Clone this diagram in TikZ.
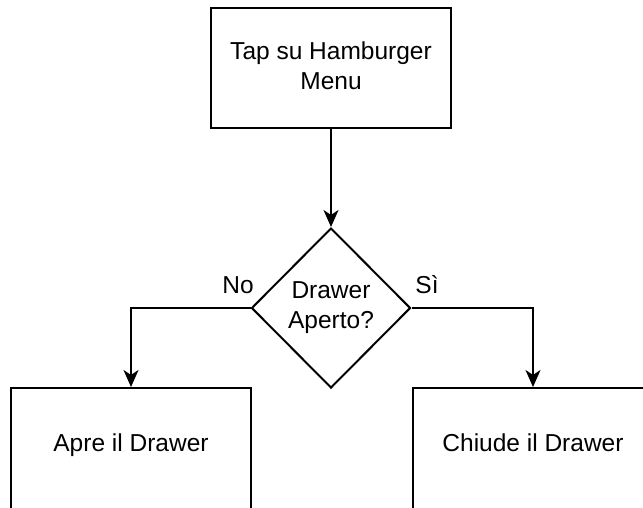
\documentclass[tikz,border=0pt]{standalone}
\usepackage{fontspec}
\setmainfont{Liberation Sans}
\usetikzlibrary{shapes.geometric,arrows.meta}
\begin{document}
\begin{tikzpicture}[x=1pt,y=-1pt,
  every node/.style={font=\fontsize{24.5}{30}\selectfont},
  flowbox/.style={draw=black,line width=2pt,rectangle,minimum width=240pt,minimum height=120pt,inner sep=0pt,align=center},
  cutbox/.style={flowbox,minimum height=128pt,text height=10pt,text depth=12pt},
  decision/.style={draw=black,line width=2pt,diamond,minimum width=159pt,minimum height=160pt,inner sep=0pt,align=center},
  conn/.style={draw=black,line width=2pt,-{Stealth[length=17pt,width=15pt,inset=5pt]}},
  lbl/.style={anchor=base,inner sep=0pt}
]
\useasboundingbox (0,0) rectangle (643,507);
\clip (0,0) rectangle (643,507);
\node[flowbox] (tap) at (331,68) {\raisebox{4pt}{\begin{tabular}{@{}c@{}}Tap su Hamburger\\Menu\end{tabular}}};
\node[decision] (dec) at (331,308) {Drawer\\Aperto?};
\node[cutbox] (apre) at (131,452) {Apre il Drawer};
\node[cutbox] (chiude) at (533,452) {Chiude il Drawer};
\draw[conn] (tap.south) -- (dec.north);
\draw[conn] (dec.west) -| (apre.north);
\draw[conn] (dec.east) -| (chiude.north);
\node[lbl] (no) at (238,293) {No};
\node[lbl] (si) at (427,293) {Sì};
\end{tikzpicture}
\end{document}
